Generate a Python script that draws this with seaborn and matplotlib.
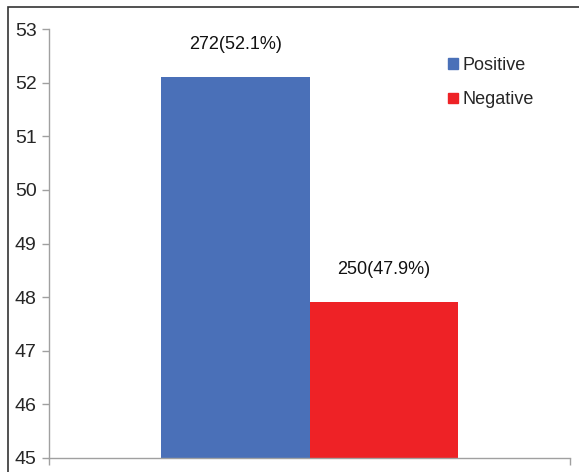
import pandas as pd
import seaborn as sns
import matplotlib.pyplot as plt
from matplotlib.patches import Rectangle

# Data
results = ["Positive", "Negative"]
counts = [272, 250]
percents = [52.1, 47.9]
colors = ["#4A70B8", "#EE2226"]
y_ticks = [45, 46, 47, 48, 49, 50, 51, 52, 53]

df = pd.DataFrame({"group": ["all"] * len(results), "result": results,
                   "percent": percents, "count": counts})

sns.set_style("white")
plt.rcParams['font.family'] = ['Liberation Sans', 'DejaVu Sans']
fs = 13

fig = plt.figure(figsize=(5.79, 4.72), dpi=100)
ax = fig.add_axes([49 / 579, 14 / 472, 521 / 579, 429 / 472])

sns.barplot(data=df, x="group", y="percent", hue="result", palette=colors,
            width=0.57, dodge=True, saturation=1, linewidth=0, ax=ax, legend=False)

ax.set_ylim(45, 53)
ax.set_xlim(-0.5, 0.5)
ax.set_yticks(y_ticks)
ax.set_yticklabels([str(t) for t in y_ticks], fontsize=14)
ax.set_xticks([-0.5, 0.5])
ax.set_xticklabels(["", ""])
ax.set_xlabel("")
ax.set_ylabel("")
ax.tick_params(axis="both", left=True, bottom=True, direction="out", length=5,
               width=1, color="#A0A0A0", pad=4)

for side in ["top", "right"]:
    ax.spines[side].set_visible(False)
for side in ["left", "bottom"]:
    ax.spines[side].set_color("#A0A0A0")
    ax.spines[side].set_linewidth(1)

# value labels above bars
for bar, c, p in zip(ax.patches, counts, percents):
    ax.text(bar.get_x() + bar.get_width() / 2, p + 0.62, f"{c}({p}%)",
            ha="center", va="center", fontsize=fs, color="#111111")

# legend
handles = [Rectangle((0, 0), 1, 1, color=col) for col in colors]
fig.legend(handles, results, loc="upper left", bbox_to_anchor=(432 / 579, 1 - 41 / 472),
           frameon=False, fontsize=fs, handlelength=0.55, handleheight=0.55,
           handletextpad=0.25, labelspacing=0.95)

# outer frame (cropped at right/bottom)
fig.patches.append(Rectangle((8 / 579, -0.1), 1.2, 1 - 6.5 / 472 + 0.1,
                             transform=fig.transFigure, fill=False,
                             edgecolor="#333333", linewidth=1.2))

fig.savefig("out.png", dpi=100)
